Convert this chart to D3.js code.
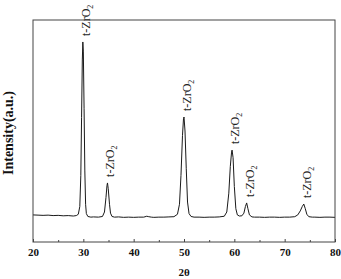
<!DOCTYPE html>
<html>
<head>
<meta charset="utf-8">
<script src="https://cdnjs.cloudflare.com/ajax/libs/d3/7.8.5/d3.min.js"></script>
<style>
  body { margin: 0; background: #fff; }
  svg { display: block; }
</style>
</head>
<body>
<svg id="xrd" width="341" height="279"></svg>
<script>
// XRD scan: [2theta, intensity (a.u.)]
const scan = [
  [20.0, 122], [21.0, 121], [22.0, 120], [23.0, 121], [24.0, 119], [25.0, 120],
  [26.0, 118], [27.0, 119], [28.0, 117], [28.6, 119], [29.0, 125], [29.3, 160],
  [29.5, 300], [29.65, 560], [29.8, 820], [29.9, 901], [30.0, 860], [30.15, 600],
  [30.3, 320], [30.45, 170], [30.6, 128], [30.9, 115], [31.5, 112], [32.0, 113],
  [33.0, 112], [33.8, 115], [34.2, 135], [34.5, 200], [34.7, 255], [34.8, 266],
  [34.95, 240], [35.2, 170], [35.4, 130], [35.7, 115], [36.2, 112], [37.0, 113],
  [38.0, 111], [39.0, 112], [40.0, 111], [41.0, 112], [42.0, 112], [42.6, 116],
  [43.0, 114], [43.5, 112], [44.0, 111], [45.0, 112], [46.0, 112], [47.0, 113],
  [48.0, 114], [48.7, 125], [49.1, 170], [49.4, 300], [49.7, 480], [49.9, 555],
  [50.0, 563], [50.2, 500], [50.45, 330], [50.7, 180], [51.0, 128], [51.4, 115],
  [52.0, 112], [53.0, 112], [54.0, 111], [55.0, 112], [56.0, 112], [57.0, 113],
  [58.0, 116], [58.5, 135], [58.9, 220], [59.2, 340], [59.45, 405], [59.55, 414],
  [59.75, 380], [60.0, 250], [60.3, 150], [60.6, 122], [61.0, 117], [61.5, 118],
  [61.9, 130], [62.2, 160], [62.45, 176], [62.7, 150], [63.0, 122], [63.5, 113],
  [64.0, 112], [65.0, 112], [66.0, 111], [67.0, 112], [68.0, 112], [69.0, 111],
  [70.0, 112], [71.0, 112], [72.0, 114], [72.6, 122], [73.1, 140], [73.5, 160],
  [73.8, 171], [74.1, 150], [74.4, 125], [74.8, 114], [75.5, 112], [76.0, 112],
  [77.0, 111], [78.0, 112], [79.0, 112], [80.0, 111]
];

// indexed reflections (all tetragonal zirconia)
const peakAngles = [29.9, 34.8, 50.0, 59.55, 62.45, 73.8];
const peakHeights = [901, 266, 563, 414, 176, 171];
const peakPhase = 't-ZrO';

const majorTicks = [20, 30, 40, 50, 60, 70, 80];
const minorTicks = [25, 35, 45, 55, 65, 75];

const serif = '"Liberation Serif", "Times New Roman", serif';

const wrapperWidth = 341, wrapperHeight = 279;
const marginTop = 20, marginRight = 6, marginBottom = 37, marginLeft = 33;
const width = wrapperWidth - marginLeft - marginRight;
const height = wrapperHeight - marginTop - marginBottom;

const svg = d3.select('#xrd');
const bounds = svg.append('g')
  .attr('transform', `translate(${marginLeft}, ${marginTop})`);

const xScale = d3.scaleLinear().domain([20, 80]).range([0, width]);
const yScale = d3.scaleLinear().domain([0, 1000]).range([height, 0]);

// pattern
const line = d3.line()
  .x(d => xScale(d[0]))
  .y(d => yScale(d[1]));

bounds.append('path')
  .datum(scan)
  .attr('fill', 'none')
  .attr('stroke', '#1a1a1a')
  .attr('stroke-width', 1)
  .attr('stroke-linejoin', 'round')
  .attr('d', line);

// peak labels, rotated, with subscript 2
const labels = bounds.selectAll('.peak-label')
  .data(peakAngles)
  .join('text')
    .attr('class', 'peak-label')
    .attr('transform', (d, i) => `translate(${xScale(d) + 7}, ${yScale(peakHeights[i]) - 6}) rotate(-90)`)
    .attr('text-anchor', 'start')
    .attr('font-family', serif)
    .attr('font-size', '12px')
    .attr('fill', '#222');
labels.append('tspan').text(peakPhase);
labels.append('tspan')
  .attr('font-size', '8px')
  .attr('dy', 3)
  .text('2');

// axes, ticks pointing inward
bounds.append('g')
  .attr('transform', `translate(0, ${height})`)
  .call(d3.axisBottom(xScale).tickValues(majorTicks).tickSize(-3).tickPadding(6).tickFormat(d3.format('d')))
  .call(g => g.select('.domain').remove())
  .call(g => g.selectAll('.tick line').attr('stroke', '#444'))
  .call(g => g.selectAll('.tick text')
    .attr('font-family', serif)
    .attr('font-weight', 700)
    .attr('font-size', '11px')
    .attr('fill', '#111'));

bounds.append('g')
  .attr('transform', `translate(0, ${height})`)
  .call(d3.axisBottom(xScale).tickValues(minorTicks).tickSize(-2).tickFormat(''))
  .call(g => g.select('.domain').remove())
  .call(g => g.selectAll('.tick line').attr('stroke', '#444'));

// frame
bounds.append('rect')
  .attr('width', width)
  .attr('height', height)
  .attr('fill', 'none')
  .attr('stroke', '#444')
  .attr('stroke-width', 1);

// axis titles
svg.append('text')
  .attr('x', marginLeft + width / 2)
  .attr('y', 276)
  .attr('text-anchor', 'middle')
  .attr('font-family', serif)
  .attr('font-weight', 700)
  .attr('font-size', '11px')
  .attr('fill', '#111')
  .text('2θ');

svg.append('text')
  .attr('transform', `translate(13, 133) rotate(-90)`)
  .attr('text-anchor', 'middle')
  .attr('font-family', serif)
  .attr('font-weight', 700)
  .attr('font-size', '14px')
  .attr('fill', '#111')
  .text('Intensity(a.u.)');
</script>
</body>
</html>
